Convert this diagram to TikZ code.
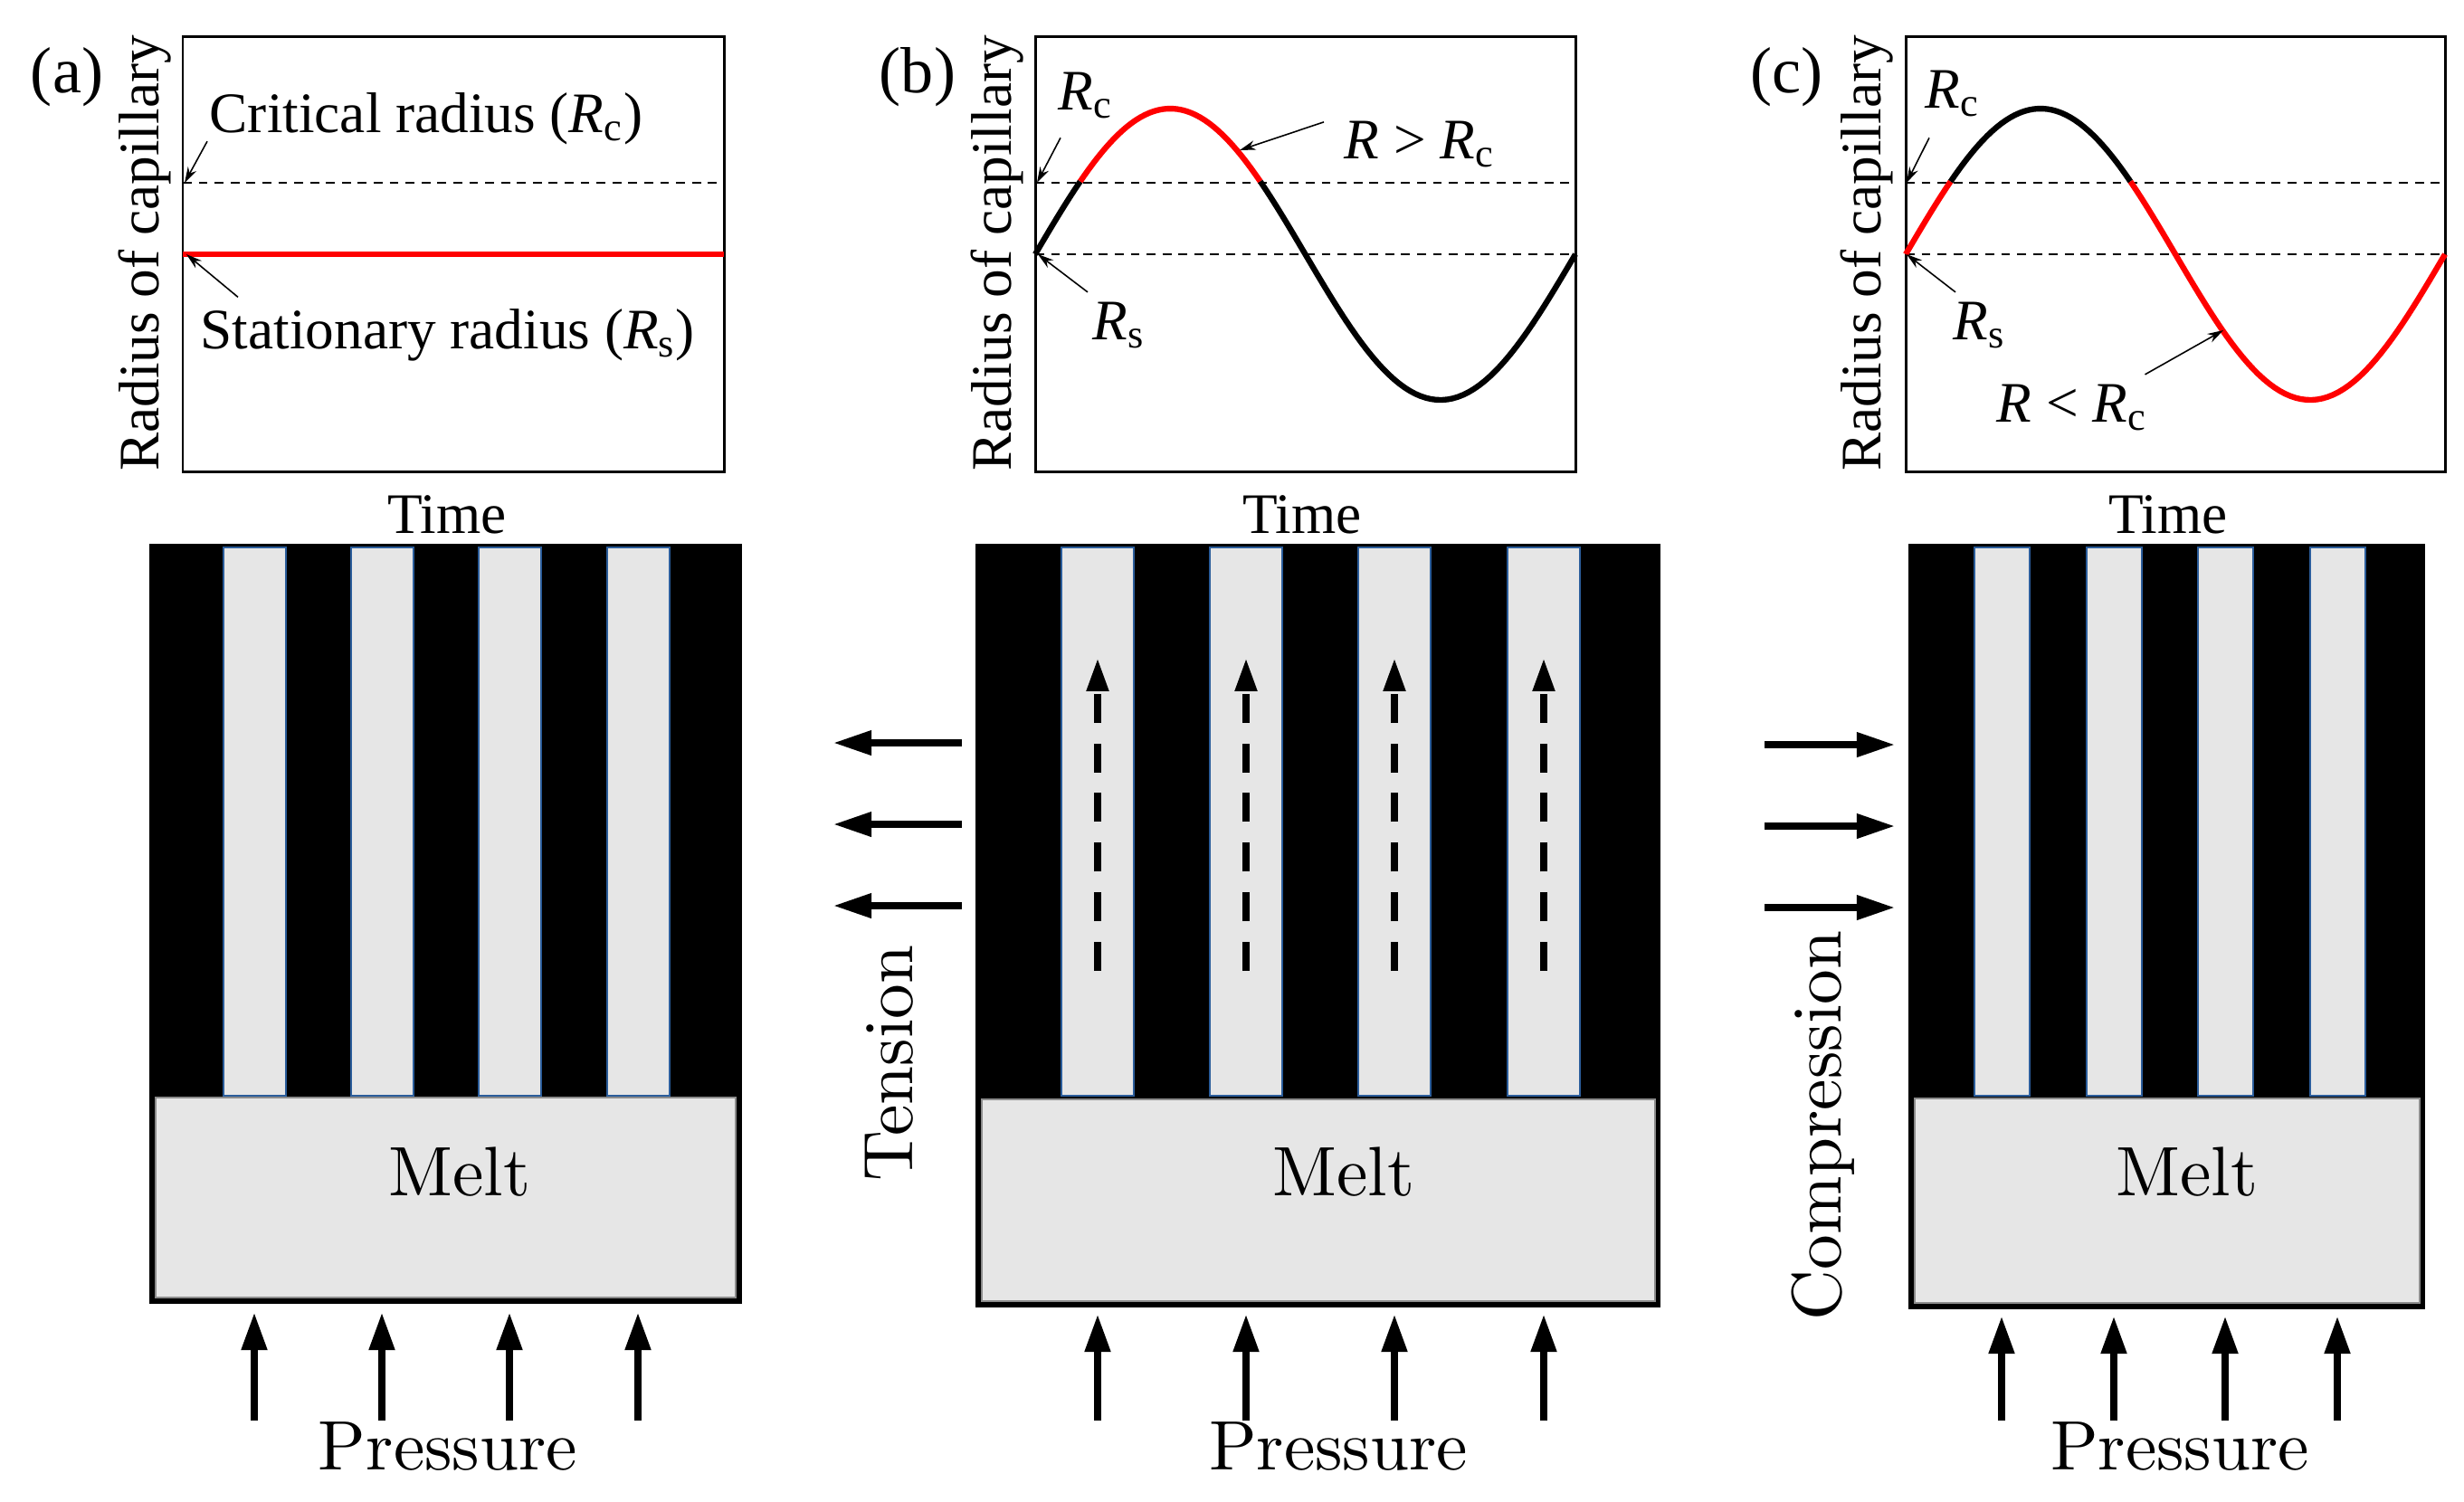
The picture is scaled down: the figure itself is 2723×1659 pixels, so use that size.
\documentclass[tikz,border=0pt]{standalone}
\usepackage{fontspec}
\setmainfont{Liberation Serif}
\newfontfamily\meltfont{lmroman10-regular.otf}
\usetikzlibrary{arrows.meta}
\definecolor{meltgray}{HTML}{E6E6E6}
\definecolor{barblue}{HTML}{2B5D9B}

\begin{document}
\begin{tikzpicture}[x=0.01cm, y=-0.01cm]
\tikzstyle{every node}=[inner sep=0pt]
\tikzstyle{lbl}=[font=\fontsize{18}{21}\selectfont]
\tikzstyle{tag}=[font=\fontsize{20.5}{24}\selectfont]
\tikzstyle{big}=[font=\meltfont\fontsize{22}{26}\selectfont]
\tikzstyle{frame}=[draw, line width=0.85pt]
\tikzstyle{rline}=[dash pattern=on 2.8pt off 2.2pt, line width=0.55pt]
\tikzstyle{curve}=[line width=1.8pt]
\tikzstyle{note}=[-{Stealth[length=5pt,width=3pt]}, line width=0.45pt]
\tikzstyle{bar}=[fill=meltgray, draw=barblue, line width=0.8pt]
\tikzstyle{melt}=[fill=meltgray, draw=black!45, line width=0.4pt]
\tikzstyle{push}=[-{Triangle[length=12pt,width=7.6pt]}, line width=2.5pt]
\tikzstyle{pull}=[-{Triangle[length=12pt,width=7.4pt]}, line width=2.1pt]
\tikzstyle{flow}=[-{Triangle[length=10.5pt,width=6.5pt]}, line width=2.3pt,
                  dash pattern=on 9.1pt off 6.5pt]
\useasboundingbox (0,0) rectangle (2723,1659);

% (a)
\draw[frame] (202,40) rectangle (800,521);
\draw[rline] (202,202) -- (800,202);
\draw[curve, red] (202,281) -- (800,281);
\node[tag, anchor=base] (taga) at (74,102) {(a)};
\node[lbl, rotate=90, anchor=base] (ya) at (175,280) {Radius of capillary};
\node[lbl, anchor=base] (timea) at (494,589) {Time};
\node[lbl, anchor=base west] (crit) at (231,146) {Critical radius (\textit{R}\textsubscript{c})};
\node[lbl, anchor=base west] (stat) at (221,385) {Stationary radius (\textit{R}\textsubscript{s})};
\coordinate (rca) at (204,202);
\coordinate (rsa) at (206,281);
\draw[note] ([shift={(-2,-4)}]crit.south west) -- (rca);
\draw[note] ([shift={(42,-12)}]stat.north west) -- (rsa);

% (b)
\draw[frame] (1144,40) rectangle (1741,521);
\draw[rline] (1144,202) -- (1741,202);
\draw[rline] (1144,281) -- (1741,281);
\draw[curve] plot[domain=0:30, samples=15] ({1144+1.6583*\x},{281-161*sin(\x)});
\draw[curve, red] plot[domain=30:150, samples=40] ({1144+1.6583*\x},{281-161*sin(\x)});
\draw[curve] plot[domain=150:360, samples=60] ({1144+1.6583*\x},{281-161*sin(\x)});
\node[tag, anchor=base] (tagb) at (1014,102) {(b)};
\node[lbl, rotate=90, anchor=base] (yb) at (1117,280) {Radius of capillary};
\node[lbl, anchor=base] (timeb) at (1439,589) {Time};
\node[lbl, anchor=base west] (rcb) at (1169,121) {\textit{R}\textsubscript{c}};
\node[lbl, anchor=base west] (rsb) at (1207,375) {\textit{R}\textsubscript{s}};
\node[lbl, anchor=base west] (gtb) at (1485,175) {\textit{R} > \textit{R}\textsubscript{c}};
\coordinate (rcb0) at (1146,202);
\coordinate (rsb0) at (1147,281);
\coordinate (gtb0) at (1370,166);
\draw[note] ([shift={(3,21)}]rcb.south west) -- (rcb0);
\draw[note] ([shift={(-5,-10)}]rsb.north west) -- (rsb0);
\draw[note] ([shift={(-22,2)}]gtb.north west) -- (gtb0);

% (c)
\draw[frame] (2106,40) rectangle (2702,521);
\draw[rline] (2106,202) -- (2702,202);
\draw[rline] (2106,281) -- (2702,281);
\draw[curve, red] plot[domain=0:30, samples=15] ({2106+1.6556*\x},{281-161*sin(\x)});
\draw[curve] plot[domain=30:150, samples=40] ({2106+1.6556*\x},{281-161*sin(\x)});
\draw[curve, red] plot[domain=150:360, samples=60] ({2106+1.6556*\x},{281-161*sin(\x)});
\node[tag, anchor=base] (tagc) at (1974,102) {(c)};
\node[lbl, rotate=90, anchor=base] (yc) at (2078,280) {Radius of capillary};
\node[lbl, anchor=base] (timec) at (2396,589) {Time};
\node[lbl, anchor=base west] (rcc) at (2127,119) {\textit{R}\textsubscript{c}};
\node[lbl, anchor=base west] (rsc) at (2158,375) {\textit{R}\textsubscript{s}};
\node[lbl, anchor=base west] (ltc) at (2206,466) {\textit{R} < \textit{R}\textsubscript{c}};
\coordinate (rcc0) at (2107,202);
\coordinate (rsc0) at (2107,281);
\coordinate (ltc0) at (2457,365);
\draw[note] ([shift={(5,23)}]rcc.south west) -- (rcc0);
\draw[note] ([shift={(3,-10)}]rsc.north west) -- (rsc0);
\draw[note] ([shift={(-3,-10)}]ltc.north east) -- (ltc0);

% stationary capillaries
\fill (165,601) rectangle (820,1441);
\foreach \x in {247,388,529,671} \filldraw[bar] (\x,605) rectangle ++(69,606);
\filldraw[melt] (172,1213) rectangle (813,1434);
\node[big, anchor=base] (melta) at (508,1321) {Melt};
\foreach \x in {281,422,563,705} \draw[push] (\x,1570) -- (\x,1450);
\node[big, anchor=base] (pressa) at (495,1624) {Pressure};

% tension
\fill (1078,601) rectangle (1835,1445);
\foreach \x in {1173,1337,1501,1666} \filldraw[bar] (\x,605) rectangle ++(80,606);
\foreach \x in {1213,1377,1541,1706} \draw[flow] (\x,1073) -- (\x,727);
\filldraw[melt] (1085,1215) rectangle (1829,1438);
\node[big, anchor=base] (meltb) at (1485,1321) {Melt};
\foreach \x in {1213,1377,1541,1706} \draw[push] (\x,1570) -- (\x,1452);
\node[big, anchor=base] (pressb) at (1479,1624) {Pressure};
\foreach \y in {821,911,1001} \draw[pull] (1063,\y) -- (921,\y);
\node[big, rotate=90, anchor=base] (tension) at (1008,1175) {Tension};

% compression
\fill (2109,601) rectangle (2680,1447);
\foreach \x in {2182,2306,2429,2553} \filldraw[bar] (\x,605) rectangle ++(61,606);
\filldraw[melt] (2116,1214) rectangle (2674,1440);
\node[big, anchor=base] (meltc) at (2417,1321) {Melt};
\foreach \x in {2212,2336,2459,2583} \draw[push] (\x,1570) -- (\x,1454);
\node[big, anchor=base] (pressc) at (2409,1624) {Pressure};
\foreach \y in {823,913,1003} \draw[pull] (1950,\y) -- (2094,\y);
\node[big, rotate=90, anchor=base] (compr) at (2034,1244) {Compression};
\end{tikzpicture}
\end{document}
